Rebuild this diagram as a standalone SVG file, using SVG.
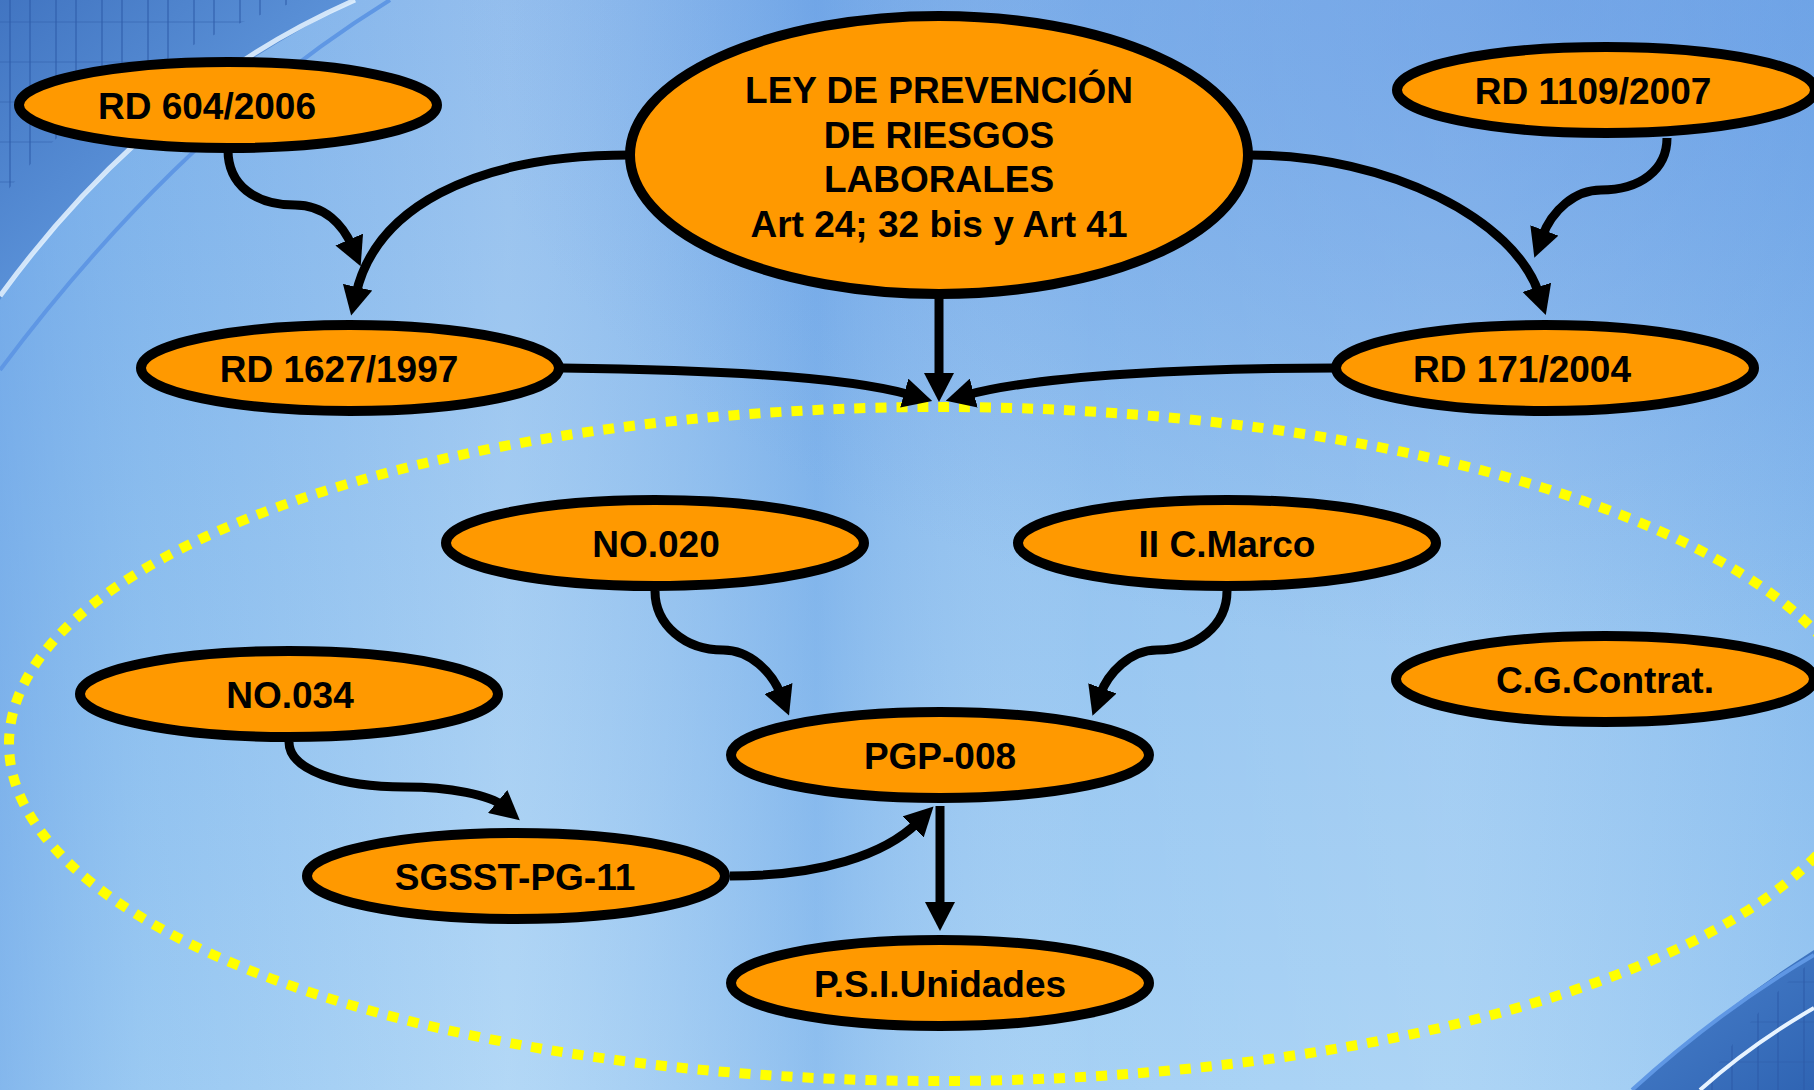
<svg xmlns="http://www.w3.org/2000/svg" width="1814" height="1090" viewBox="0 0 1814 1090">
<defs>
<linearGradient id="bgV" x1="0" y1="0" x2="0" y2="1">
<stop offset="0" stop-color="#7eb1ea"/>
<stop offset="0.5" stop-color="#90c1ef"/>
<stop offset="1" stop-color="#a2cff4"/>
</linearGradient>
<linearGradient id="bgH" x1="0" y1="0" x2="1" y2="0">
<stop offset="0" stop-color="#5f9ae4" stop-opacity="0.45"/>
<stop offset="0.08" stop-color="#6fa8e8" stop-opacity="0.15"/>
<stop offset="0.28" stop-color="#ffffff" stop-opacity="0.18"/>
<stop offset="0.45" stop-color="#5c96e2" stop-opacity="0.28"/>
<stop offset="0.6" stop-color="#ffffff" stop-opacity="0.05"/>
<stop offset="0.8" stop-color="#ffffff" stop-opacity="0.12"/>
<stop offset="1" stop-color="#5f9ae4" stop-opacity="0.15"/>
</linearGradient>
<radialGradient id="tr" cx="0.85" cy="0" r="0.6">
<stop offset="0" stop-color="#5d93e2" stop-opacity="0.5"/>
<stop offset="1" stop-color="#5d93e2" stop-opacity="0"/>
</radialGradient>
<pattern id="grid" width="46" height="40" patternUnits="userSpaceOnUse">
<rect width="46" height="40" fill="none"/>
<path d="M10,0 V40 M30,0 V40" stroke="#2c5aa8" stroke-width="2" opacity="0.5"/>
<path d="M0,22 H46" stroke="#2c5aa8" stroke-width="1.5" opacity="0.35"/>
</pattern>
<linearGradient id="darkTL" x1="0" y1="0" x2="1" y2="1">
<stop offset="0" stop-color="#3c6fbd"/>
<stop offset="0.6" stop-color="#5b93da"/>
<stop offset="1" stop-color="#7fb2ea"/>
</linearGradient>
<linearGradient id="darkBR" x1="1" y1="1" x2="0" y2="0">
<stop offset="0" stop-color="#2f64b3"/>
<stop offset="1" stop-color="#4b82cc"/>
</linearGradient>
<marker id="ah" viewBox="0 0 29 30" markerWidth="29" markerHeight="30" markerUnits="userSpaceOnUse" refX="7" refY="15" orient="auto">
<path d="M0,0 L29,15 L0,30 z" fill="#000"/>
</marker>
<style>
.node ellipse { fill: #ff9900; stroke: #000; stroke-width: 10; }
.node text { font-family: "Liberation Sans", Arial, sans-serif; font-weight: bold; font-size: 37px; fill: #000; text-anchor: middle; }
.conn path { fill: none; stroke: #000; stroke-width: 9; marker-end: url(#ah); }
.dots { fill: none; stroke: #ffff00; stroke-width: 10; stroke-dasharray: 11 10; }
</style>
</defs>

<g id="background">
<rect width="1814" height="1090" fill="url(#bgV)"/>
<rect width="1814" height="1090" fill="url(#bgH)"/>
<rect width="1814" height="1090" fill="url(#tr)"/>
<path d="M0,0 H355 Q120,120 0,300 Z" fill="url(#darkTL)" opacity="0.9"/>
<path d="M0,0 H300 Q100,70 0,200 Z" fill="url(#grid)"/>
<path d="M0,296 Q150,90 355,0" fill="none" stroke="#e8f4ff" stroke-width="5" opacity="0.85"/>
<path d="M0,370 Q180,130 390,0" fill="none" stroke="#5f97e4" stroke-width="4"/>
<path d="M1814,950 Q1720,1010 1632,1090 H1814 Z" fill="url(#darkBR)"/>
<path d="M1814,960 Q1760,1000 1700,1090 H1814 Z" fill="url(#grid)"/>
<path d="M1814,955 Q1720,1010 1632,1090" fill="none" stroke="#5f97e4" stroke-width="4"/>
<path d="M1814,1008 Q1750,1045 1700,1090" fill="none" stroke="#e8f4ff" stroke-width="4"/>
</g>

<ellipse class="dots" cx="939" cy="744" rx="930" ry="337"/>

<g id="connectors" class="conn">
<path d="M228,150 C228,185 255,205 295,205 C325,205 343,225 352,246"/>
<path d="M630,155 C470,155 375,210 356,294"/>
<path d="M939,296 L939,380"/>
<path d="M562,368 C700,370 840,375 911,395"/>
<path d="M1336,368 C1200,368 1040,375 967,395"/>
<path d="M1250,155 C1390,155 1515,220 1539,294"/>
<path d="M1667,138 C1667,170 1640,190 1601,190 C1575,190 1552,210 1542,237"/>
<path d="M655,591 C655,625 685,650 723,650 C750,650 772,672 781,695"/>
<path d="M1227,591 C1227,625 1197,650 1157,650 C1130,650 1108,673 1100,695"/>
<path d="M289,742 C289,770 340,787 405,787 C450,787 490,795 503,806"/>
<path d="M730,876 C820,876 885,855 918,822"/>
<path d="M940,806 L940,909"/>
</g>

<g id="n-rd604" class="node"><ellipse cx="228" cy="105" rx="209" ry="43"/><text x="207" y="119">RD 604/2006</text></g>
<g id="n-ley" class="node"><ellipse cx="939" cy="155" rx="309" ry="139"/>
<text x="939" y="103">LEY DE PREVENCIÓN</text>
<text x="939" y="148">DE RIESGOS</text>
<text x="939" y="192">LABORALES</text>
<text x="939" y="237">Art 24; 32 bis y Art 41</text></g>
<g id="n-rd1109" class="node"><ellipse cx="1606" cy="90" rx="209" ry="43"/><text x="1593" y="104">RD 1109/2007</text></g>
<g id="n-rd1627" class="node"><ellipse cx="350" cy="368" rx="209" ry="43"/><text x="339" y="382">RD 1627/1997</text></g>
<g id="n-rd171" class="node"><ellipse cx="1545" cy="368" rx="209" ry="43"/><text x="1522" y="382">RD 171/2004</text></g>
<g id="n-no020" class="node"><ellipse cx="655" cy="543" rx="209" ry="43"/><text x="656" y="557">NO.020</text></g>
<g id="n-iicmarco" class="node"><ellipse cx="1227" cy="543" rx="209" ry="43"/><text x="1227" y="557">II C.Marco</text></g>
<g id="n-cgcontrat" class="node"><ellipse cx="1605" cy="679" rx="209" ry="43"/><text x="1605" y="693">C.G.Contrat.</text></g>
<g id="n-no034" class="node"><ellipse cx="289" cy="694" rx="209" ry="43"/><text x="290" y="708">NO.034</text></g>
<g id="n-pgp008" class="node"><ellipse cx="940" cy="755" rx="209" ry="43"/><text x="940" y="769">PGP-008</text></g>
<g id="n-sgsst" class="node"><ellipse cx="516" cy="876" rx="209" ry="43"/><text x="515" y="890">SGSST-PG-11</text></g>
<g id="n-psi" class="node"><ellipse cx="940" cy="983" rx="209" ry="43"/><text x="940" y="997">P.S.I.Unidades</text></g>
</svg>
